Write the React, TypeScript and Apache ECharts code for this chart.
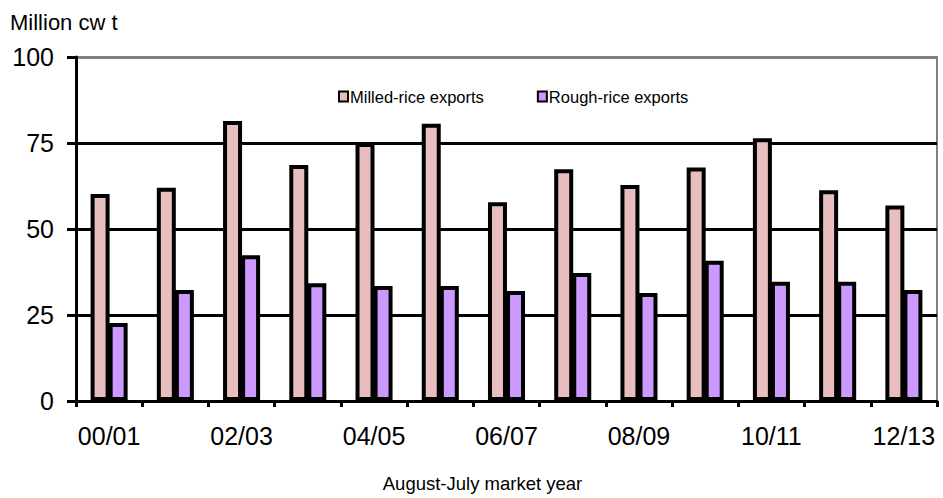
import React, { useEffect, useRef } from "react";
import * as echarts from "echarts";

const categories = ["00/01", "01/02", "02/03", "03/04", "04/05", "05/06", "06/07", "07/08", "08/09", "09/10", "10/11", "11/12", "12/13"];
const milled = [60.2, 62, 81.4, 68.6, 75, 80.6, 57.8, 67.4, 62.8, 67.9, 76.4, 61.3, 56.8];
const rough = [22.7, 32.3, 42.4, 34.2, 33.4, 33.4, 32, 37.2, 31.4, 40.8, 34.7, 34.7, 32.3];
const yTicks = [0, 25, 50, 75, 100];

const FONT = "Liberation Sans, Arial, sans-serif";

export default function App() {
  const ref = useRef<HTMLDivElement>(null);
  useEffect(() => {
    if (!ref.current) return;
    const chart = echarts.init(ref.current, null, { renderer: "svg" });
    chart.setOption({
      animation: false,
      backgroundColor: "#fff",
      textStyle: { fontFamily: FONT },
      title: {
        text: "Million cw t",
        left: 5,
        top: 6,
        textStyle: { fontFamily: FONT, fontSize: 22, fontWeight: "normal", color: "#000" },
      },
      legend: {
        left: 333,
        top: 83,
        itemWidth: 9,
        itemHeight: 10,
        itemGap: 53,
        icon: "rect",
        textStyle: { fontFamily: FONT, fontSize: 16.5, color: "#000", padding: [0, 0, 0, -3] },
        data: ["Milled-rice exports", "Rough-rice exports"],
      },
      grid: {
        left: 76,
        right: 6,
        top: 57,
        bottom: 97,
        show: true,
        borderColor: "#808080",
        borderWidth: 2,
        backgroundColor: "transparent",
      },
      xAxis: {
        type: "category",
        data: categories,
        boundaryGap: true,
        name: "August-July market year",
        nameLocation: "middle",
        nameGap: 73,
        nameTextStyle: { fontFamily: FONT, fontSize: 18.5, color: "#000", padding: [0, 48, 0, 0] },
        axisLine: { lineStyle: { color: "#000", width: 3 } },
        axisTick: { show: true, length: 6, lineStyle: { color: "#000", width: 3 }, interval: 0 },
        axisLabel: { interval: 1, margin: 22, fontFamily: FONT, fontSize: 25, color: "#000" },
      },
      yAxis: {
        type: "value",
        min: 0,
        max: 100,
        interval: 25,
        axisLine: { show: true, lineStyle: { color: "#000", width: 3 } },
        axisTick: { show: true, length: 9, lineStyle: { color: "#000", width: 3 } },
        axisLabel: {
          margin: 22,
          fontFamily: FONT,
          fontSize: 25,
          color: "#000",
          formatter: (v: number) => (yTicks.includes(v) ? String(v) : ""),
        },
        splitLine: {
          show: true,
          lineStyle: { color: ["#000", "#000", "#000", "#000", "#808080"], width: 3 },
        },
      },
      series: [
        {
          name: "Milled-rice exports",
          type: "bar",
          data: milled,
          barWidth: 19,
          barGap: "-5%",
          itemStyle: { color: "#E8BEBE", borderColor: "#000", borderWidth: 4 },
        },
        {
          name: "Rough-rice exports",
          type: "bar",
          data: rough,
          barWidth: 19,
          barGap: "-5%",
          itemStyle: { color: "#CC99FF", borderColor: "#000", borderWidth: 4 },
        },
      ],
    });
    return () => chart.dispose();
  }, []);
  return <div ref={ref} style={{ width: 943, height: 498, position: "absolute", left: 0, top: 0 }} />;
}
